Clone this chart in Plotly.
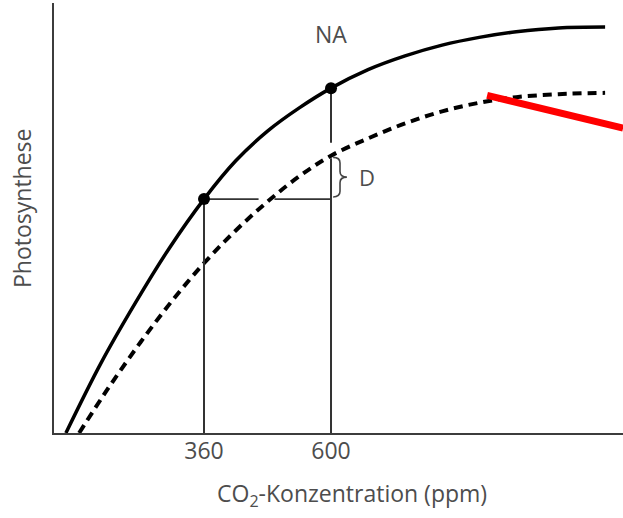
import numpy as np
import plotly.graph_objects as go

# ---- data ----
co2_now = [99, 165, 230, 295, 360, 420, 480, 540, 600, 670, 740, 810, 880, 950, 1030, 1118]
ps_now = [0, 16.2, 30.2, 43.1, 54.4, 63.3, 70.2, 75.6, 80.2, 84.5, 87.7, 90.2, 92.0, 93.3, 94.2, 94.4]

co2_acc = [124, 180, 240, 300, 360, 420, 480, 540, 600, 670, 740, 810, 880, 950, 1030, 1118]
ps_acc = [0, 10.6, 21.1, 30.8, 39.5, 47.1, 53.8, 59.7, 64.5, 68.5, 72.0, 74.8, 76.8, 78.1, 78.8, 79.1]

tick_vals = [360, 600]
tick_text = ["360", "600"]
point_x = [360, 600]
point_y = [54.4, 80.2]

red_x = [895, 1152]
red_y = [78.5, 70.9]

X_RANGE = [76.5, 1151.8]
Y_RANGE = [0, 100]

TXT = "#4d4d4d"
FONT = "Open Sans"

fig = go.Figure()

# solid curve (NA)
fig.add_trace(go.Scatter(x=co2_now, y=ps_now, mode="lines",
                         line=dict(color="black", width=3.5, shape="spline", smoothing=1.0),
                         hoverinfo="skip"))
# dashed curve
fig.add_trace(go.Scatter(x=co2_acc, y=ps_acc, mode="lines",
                         line=dict(color="black", width=4, dash="9px,6px", shape="spline", smoothing=1.0),
                         hoverinfo="skip"))

# helper lines
acc_at_600 = float(np.interp(point_x[1], co2_acc, ps_acc))
cross_x = float(np.interp(point_y[0], ps_acc, co2_acc)) - 8
lc = "#333333"
fig.add_trace(go.Scatter(x=[point_x[0], point_x[0]], y=[0, point_y[0]], mode="lines",
                         line=dict(color=lc, width=2), hoverinfo="skip"))
fig.add_trace(go.Scatter(x=[point_x[1], point_x[1], None, point_x[1], point_x[1]],
                         y=[0, acc_at_600 - 0.6, None, acc_at_600 + 3.0, point_y[1]],
                         mode="lines", line=dict(color=lc, width=2), hoverinfo="skip"))
fig.add_trace(go.Scatter(x=[point_x[0], cross_x - 15, None, cross_x + 15, point_x[1]],
                         y=[point_y[0]] * 2 + [None] + [point_y[0]] * 2,
                         mode="lines", line=dict(color=lc, width=1.6), hoverinfo="skip"))

# red line
fig.add_trace(go.Scatter(x=red_x, y=red_y, mode="lines",
                         line=dict(color="#ff0000", width=7), hoverinfo="skip"))

# points
fig.add_trace(go.Scatter(x=point_x, y=point_y, mode="markers",
                         marker=dict(color="black", size=12), hoverinfo="skip"))

# brace between solid at 360 and dashed at 600
y0 = point_y[0] + 0.5
y1 = acc_at_600 - 0.4
ym = (y0 + y1) / 2
xa = point_x[1] + 4
xv = point_x[1] + 17
xt = point_x[1] + 30
r = 1.3
path = (f"M {xa},{y1} Q {xv},{y1} {xv},{y1 - r} L {xv},{ym + r} "
        f"Q {xv},{ym} {xt},{ym} Q {xv},{ym} {xv},{ym - r} "
        f"L {xv},{y0 + r} Q {xv},{y0} {xa},{y0}")
fig.add_shape(type="path", path=path, xref="x", yref="y",
              line=dict(color="#444444", width=1.6))

fig.add_annotation(x=point_x[1] + 49, y=ym, xref="x", yref="y", text="D",
                   showarrow=False, xanchor="left", yanchor="middle",
                   font=dict(family=FONT, size=22, color=TXT))
fig.add_annotation(x=point_x[1], y=(433 - 34) / 4.3, xref="x", yref="y", text="NA",
                   showarrow=False, xanchor="center", yanchor="middle",
                   font=dict(family=FONT, size=23, color=TXT))

# axis titles
fig.add_annotation(x=(22 - 54) / 569, y=(433 - 208) / 430, xref="paper", yref="paper",
                   text="Photosynthese", textangle=-90, showarrow=False,
                   xanchor="center", yanchor="middle",
                   font=dict(family=FONT, size=23, color=TXT))
fig.add_annotation(x=(352 - 54) / 569, y=(433 - 494) / 430, xref="paper", yref="paper",
                   text="CO<sub>2</sub>-Konzentration (ppm)", showarrow=False,
                   xanchor="center", yanchor="middle",
                   font=dict(family=FONT, size=23, color=TXT))

fig.update_layout(
    width=623, height=518,
    margin=dict(l=54, r=0, t=3, b=85),
    paper_bgcolor="white", plot_bgcolor="white",
    showlegend=False,
    xaxis=dict(range=X_RANGE, showgrid=False, zeroline=False, showline=True,
               linecolor="#3c3c3c", linewidth=2, ticks="",
               tickvals=tick_vals, ticktext=tick_text, ticklabelstandoff=-4,
               tickfont=dict(family=FONT, size=23, color=TXT)),
    yaxis=dict(range=Y_RANGE, showgrid=False, zeroline=False, showline=True,
               linecolor="#3c3c3c", linewidth=2, ticks="", showticklabels=False),
)

fig.write_html("out.html")
